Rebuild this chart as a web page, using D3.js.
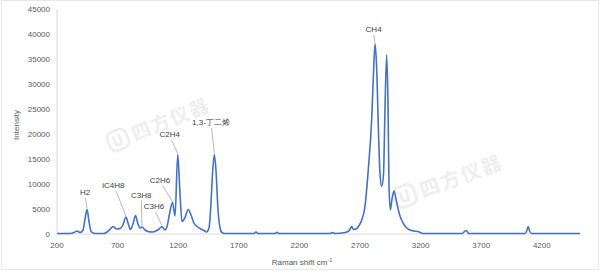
<!DOCTYPE html>
<html>
<head>
<meta charset="utf-8">
<script src="https://cdn.jsdelivr.net/npm/d3@7"></script>
<style>
  body { margin: 0; background: #fff; }
  svg { display: block; font-family: "Liberation Sans", Arial, sans-serif; }
</style>
</head>
<body>
<svg width="600" height="276"></svg>
<script>
let width = 600;
let height = 276;

// espectro (Raman shift, intensidade)
let shift = [200, 307, 340, 365, 390, 415, 431, 448, 464, 481, 514, 588, 613, 637, 662, 679, 695, 720, 744, 769,
  786, 806, 827, 848, 868, 885, 901, 926, 951, 984, 1017, 1042, 1066, 1091, 1108, 1128, 1153, 1174, 1196, 1215,
  1231, 1256, 1283, 1306, 1330, 1355, 1388, 1413, 1433, 1454, 1470, 1483, 1498, 1511, 1528, 1545, 1561, 1586,
  1825, 1842, 1858, 1999, 2015, 2031, 2452, 2473, 2493, 2576, 2600, 2617, 2631, 2646, 2667, 2692, 2716, 2741,
  2768, 2796, 2811, 2824, 2836, 2853, 2865, 2879, 2894, 2906, 2920, 2931, 2939, 2950, 2964, 2981, 2997, 3016,
  3039, 3058, 3080, 3113, 3146, 3178, 3220, 3541, 3575, 3599, 4061, 4077, 4087, 4101, 4118, 4515];
let intensity = [100, 100, 300, 600, 300, 800, 3000, 4900, 2500, 500, 100, 100, 400, 900, 1500, 1200, 1000, 1100, 1800, 3400,
  2200, 900, 2000, 3700, 2000, 1200, 1400, 800, 500, 400, 600, 1000, 1500, 800, 1500, 4000, 6300, 3600, 15900, 8000,
  2500, 3300, 4900, 3800, 2200, 1500, 1000, 700, 400, 1200, 6000, 12000, 15900, 13000, 5000, 1200, 300, 100,
  100, 400, 100, 100, 350, 100, 100, 300, 100, 300, 500, 900, 1500, 900, 1000, 1700, 2900, 5500,
  12800, 22800, 32000, 38000, 34000, 20000, 12000, 9500, 12000, 25000, 35800, 26000, 10000, 4800, 7000, 8600, 7000, 4800,
  3000, 2100, 1300, 800, 600, 500, 100, 100, 700, 100, 100, 700, 1500, 500, 100, 100];

let xTicks = [200, 700, 1200, 1700, 2200, 2700, 3200, 3700, 4200];
let yTicks = [0, 5000, 10000, 15000, 20000, 25000, 30000, 35000, 40000, 45000];

// rótulos dos picos: posição do pico e posição do texto (em unidades de dados)
let peakNames = ["H2", "iC4H8", "C3H8", "C3H6", "C2H6", "C2H4", "1,3-丁二烯", "CH4"];
let peakAt = [[448, 4900], [769, 3400], [901, 1400], [1066, 1500], [1153, 6300], [1196, 15900], [1498, 15900], [2824, 38000]];
let labelAt = [[431, 8000], [665, 9500], [895, 7500], [1000, 5200], [1050, 10500], [1130, 19700], [1470, 22000], [2812, 40600]];

let svg = d3.select("svg");

// moldura clara
svg.append("rect").attr("x", 1.5).attr("y", 0.5).attr("width", 597).attr("height", 269)
  .attr("fill", "none").attr("stroke", "#e8e8e8");

let x = d3.scaleLinear().domain([200, 4515]).range([57, 580]);
let y = d3.scaleLinear().domain([0, 45000]).range([234, 9]);

// marca d'água
function watermark(tx, ty, ang, s) {
  let g = svg.append("g").attr("transform", `translate(${tx},${ty}) rotate(${ang}) scale(${s})`)
    .attr("fill", "none").attr("opacity", 0.35);
  g.append("rect").attr("x", -11).attr("y", -11).attr("width", 22).attr("height", 22).attr("rx", 7)
    .attr("stroke", "#cfcfcf").attr("stroke-width", 3);
  g.append("path").attr("d", "M-4,-6 V5 M3,-6 V5 M-4,5 H3").attr("stroke", "#cfcfcf").attr("stroke-width", 3);
  g.append("text").attr("x", 17).attr("y", 8).attr("fill", "#cfcfcf")
    .style("font-family", "'Noto Sans CJK SC'").style("font-weight", "bold").style("font-size", "21px")
    .style("letter-spacing", "2px").text("四方仪器");
}
watermark(118, 140, -22, 0.9);
watermark(405, 196, -20, 0.95);

// eixos
svg.append("line").attr("x1", 57).attr("x2", 57).attr("y1", y(45000)).attr("y2", y(0)).attr("stroke", "#d9d9d9");
svg.append("line").attr("x1", 57).attr("x2", 580).attr("y1", y(0)).attr("y2", y(0)).attr("stroke", "#d9d9d9");

svg.selectAll(".ytick").data(yTicks).enter().append("text")
  .attr("x", 50).attr("y", d => y(d) + 3)
  .attr("text-anchor", "end").attr("fill", "#595959").style("font-size", "8px")
  .text(d => d);

svg.selectAll(".xtick").data(xTicks).enter().append("text")
  .attr("x", d => x(d)).attr("y", 248)
  .attr("text-anchor", "middle").attr("fill", "#595959").style("font-size", "8px")
  .text(d => d);

svg.append("text").attr("transform", "translate(19,125) rotate(-90)")
  .attr("text-anchor", "middle").attr("fill", "#595959").style("font-size", "8px").text("Intensity");

let xt = svg.append("text").attr("x", 302).attr("y", 265).attr("text-anchor", "middle")
  .attr("fill", "#595959").style("font-size", "8px");
xt.append("tspan").text("Raman shift cm");
xt.append("tspan").attr("dy", -3).style("font-size", "5.5px").text("-1");

// curva
let pts = shift.map((s, i) => [s, intensity[i]]);
let line = d3.line().x(d => x(d[0])).y(d => y(d[1])).curve(d3.curveMonotoneX);
svg.append("path").datum(pts).attr("d", line)
  .attr("fill", "none").attr("stroke", "#4472c4").attr("stroke-width", 1.6);

// rótulos e linhas de chamada
peakNames.forEach((n, i) => {
  let lx = x(labelAt[i][0]), ly = y(labelAt[i][1]);
  let px = x(peakAt[i][0]), py = y(peakAt[i][1]);
  svg.append("line").attr("x1", lx + (px - lx) * 0.2).attr("y1", ly + 4)
    .attr("x2", px).attr("y2", py - 1).attr("stroke", "#a6a6a6").attr("stroke-width", 0.8);
  svg.append("text").attr("x", lx).attr("y", ly + 1).attr("text-anchor", "middle")
    .attr("fill", "#404040").style("font-size", "8px").text(n);
});
</script>
</body>
</html>
